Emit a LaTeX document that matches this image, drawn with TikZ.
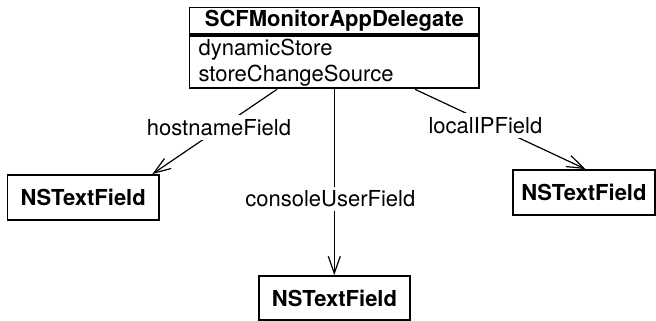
\documentclass[tikz,border=0pt]{standalone}
\usepackage{fontspec}
\setmainfont{TeX Gyre Heros}
\usetikzlibrary{arrows.meta}
\begin{document}
\begin{tikzpicture}[x=1pt,y=-1pt,
  box/.style={draw, line width=1.8pt, inner sep=0pt, font=\fontsize{22}{26}\selectfont},
  clsbox/.style={box, font=\fontsize{22}{26}\selectfont\bfseries},
  conn/.style={line width=1.2pt, -{Straight Barb[length=17pt,width=12pt,line width=1.2pt]}},
  lbl/.style={fill=white, inner xsep=2pt, inner ysep=4pt, font=\fontsize{22}{26}\selectfont}]
\useasboundingbox (0,0) rectangle (656,321);
% class box
\node[clsbox, minimum width=289.5pt, minimum height=26.6pt, anchor=north] (hdr) at (334.3,6.7) {SCFMonitorAppDelegate};
\node[box, minimum width=289.5pt, minimum height=52.4pt, anchor=north, align=left,
      text width=271.5pt, inner xsep=9pt, inner ysep=0pt] (attr) at (hdr.south) {dynamicStore\\storeChangeSource};
% target boxes
\node[clsbox, minimum width=151.5pt, minimum height=45pt] (lt) at (83.25,197.5) {NSTextField};
\node[clsbox, minimum width=142pt, minimum height=45pt] (rt) at (584,192.5) {NSTextField};
\node[clsbox, minimum width=151pt, minimum height=44pt] (bt) at (334.5,298) {NSTextField};
% connector end points
\path (attr.south) ++(-57.3,0) coordinate (h0);
\path (lt.north east) ++(-7.6,0) coordinate (h1);
\path (attr.south) ++(80.7,0) coordinate (r0);
\path (rt.north) ++(1.5,0) coordinate (r1);
\path (attr.south) coordinate (c0);
\path (bt.north -| attr.south) coordinate (c1);
% connectors
\draw[conn] (h0) -- node[lbl, pos=0.45, xshift=-2pt] {hostnameField} (h1);
\draw[conn] (c0) -- node[lbl, pos=0.59, xshift=-4pt] {consoleUserField} (c1);
\draw[conn] (r0) -- node[lbl, pos=0.454, xshift=-7pt] {localIPField} (r1);
\end{tikzpicture}
\end{document}
